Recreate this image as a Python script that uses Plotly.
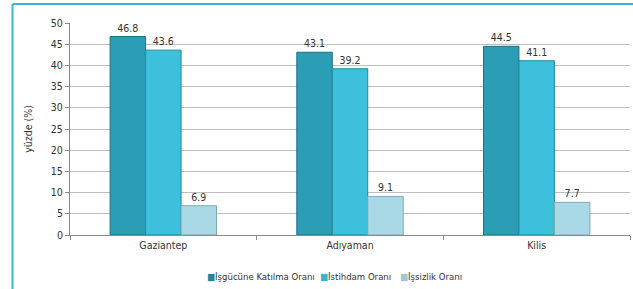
import plotly.graph_objects as go

categories = ["Gaziantep", "Adıyaman", "Kilis"]
series_names = ["İşgücüne Katılma Oranı", "İstihdam Oranı", "İşsizlik Oranı"]
katilma = [46.8, 43.1, 44.5]
istihdam = [43.6, 39.2, 41.1]
issizlik = [6.9, 9.1, 7.7]
y_ticks = [0, 5, 10, 15, 20, 25, 30, 35, 40, 45, 50]

colors = ["#2b9db4", "#3cc0dc", "#a9d8e6"]
lines = ["#1d6e80", "#2389a0", "#7fa9b6"]
legend_colors = ["#23849a", "#34b4d2", "#9cc8d6"]
FONT = "DejaVu Sans Condensed, Liberation Sans, sans-serif"

fig = go.Figure()
for name, vals, c, lc in zip(series_names, [katilma, istihdam, issizlik], colors, lines):
    fig.add_trace(go.Bar(
        x=categories, y=vals, name=name,
        marker=dict(color=c, line=dict(color=lc, width=1)),
        text=[f"{v:.1f}" for v in vals], textposition="outside",
        textfont=dict(size=10.5, color="#333333", family=FONT),
        cliponaxis=False, showlegend=False,
    ))

L, T, W, H = 70, 23, 560, 212
def px(x): return (x - L) / W
def py(y): return (T + H - y) / H

legend_x = [205, 318, 398]
annotations = []
for xpos, name, c in zip(legend_x, series_names, legend_colors):
    annotations.append(dict(
        xref="paper", yref="paper", x=px(xpos), y=py(276), xanchor="left", yanchor="middle",
        showarrow=False,
        text=f"<span style='color:{c}'>■</span>{name}",
        font=dict(size=9.5, family=FONT, color="#333333"),
    ))

fig.update_layout(
    width=633, height=289,
    margin=dict(l=L, r=633 - L - W, t=T, b=289 - T - H),
    paper_bgcolor="white", plot_bgcolor="white",
    barmode="group", bargap=0.43, bargroupgap=0,
    font=dict(family=FONT, size=10, color="#333333"),
    showlegend=False,
    annotations=annotations,
    xaxis=dict(showline=True, linecolor="#8a8a8a", linewidth=1, automargin=False,
               ticks="outside", tickson="boundaries", ticklen=4, tickcolor="#8a8a8a",
               tickfont=dict(size=10.5, family=FONT), showgrid=False),
    yaxis=dict(range=[0, 50], tickvals=y_ticks, showline=True, linecolor="#8a8a8a", linewidth=1,
               automargin=False,
               ticks="outside", ticklen=4, tickcolor="#8a8a8a",
               showgrid=True, gridcolor="#bdbdbd", gridwidth=1,
               tickfont=dict(size=10.5, family=FONT),
               title=dict(text="yüzde (%)", font=dict(size=10.5, family=FONT), standoff=16)),
    shapes=[
        dict(type="line", xref="paper", yref="paper", x0=px(12.5), x1=px(12.5), y0=py(4), y1=py(300),
             line=dict(color="#3ab6d0", width=2)),
        dict(type="line", xref="paper", yref="paper", x0=px(12.5), x1=px(640), y0=py(4), y1=py(4),
             line=dict(color="#3ab6d0", width=2)),
    ],
)

fig.write_html("out.html", config={"displayModeBar": False},
               post_script="document.body.style.margin='0px';document.body.style.overflow='hidden';")
